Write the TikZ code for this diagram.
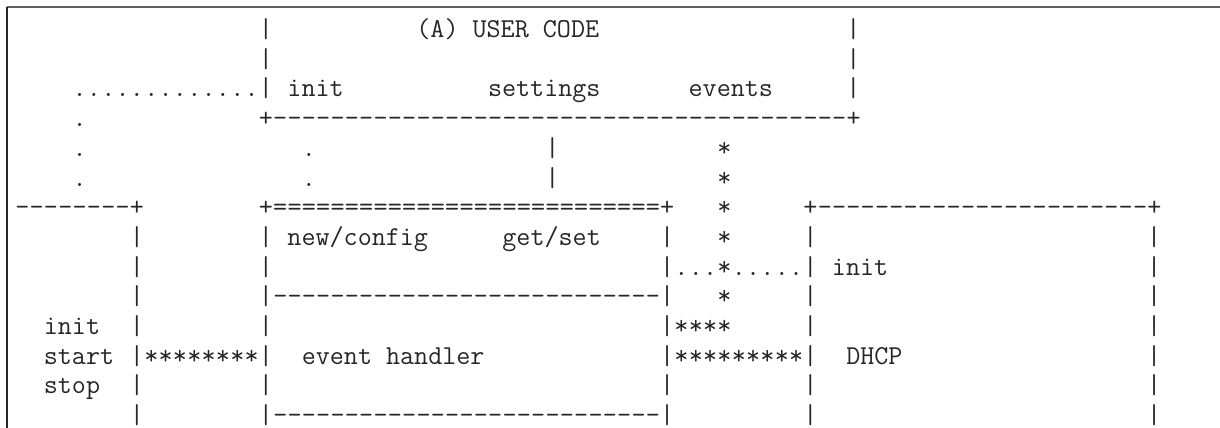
\documentclass[tikz,border=0pt]{standalone}
\usepackage{fontspec}

% one character cell, and n copies of it
\newcommand\cell[1]{\makebox[0.525em]{#1}}
\newcommand\rep[2]{\foreach\i in {1,...,#1}{\cell{#2}}}

\begin{document}
\begin{tikzpicture}[
  x=7.165pt, y=-14.85pt,
  every node/.style={font=\fontsize{13.65pt}{14.85pt}\selectfont\ttfamily, text=black!85},
  asc/.style={anchor=base west, inner sep=0pt, outer sep=0pt},
  frame/.style={line width=0.9pt}
]
\useasboundingbox (-1.061,-0.266) rectangle (84.08,14.14);

% ---------- Frame of the listing ----------
\draw[frame, gray!75!black] (-0.572,-0.03) -- (84.08,-0.03);
\draw[frame, black!85] (-0.572,-0.03) -- (-0.572,14.14);

% ---------- (A) user code box ----------
\def\ul{17} \def\ur{58}
\foreach \r in {1,2,3} {
  \node[asc] (ucl-\r) at (\ul,\r) {|};
  \node[asc] (ucr-\r) at (\ur,\r) {|};
}
\node[asc] (uc-title) at (28,1) {(A) USER CODE};
\node[asc] (uc-init) at (19,3) {init};
\node[asc] (uc-set) at (33,3) {settings};
\node[asc] (uc-ev) at (47,3) {events};
\node[asc] (uc-bot) at (\ul,4) {\cell{+}\rep{40}{-}\cell{+}};

% ---------- Left block (init/start/stop) ----------
\def\lb{8}
\node[asc] (lb-top) at (0,7) {\rep{8}{-}\cell{+}};
\foreach \r in {8,...,14}
  \node[asc] (lb-\r) at (\lb,\r) {|};
\node[asc] (lb-init) at (2,11) {init};
\node[asc] (lb-start) at (2,12) {start};
\node[asc] (lb-stop) at (2,13) {stop};

% ---------- Middle box (config / event handler) ----------
\def\ml{17} \def\mr{45}
\node[asc] (mb-top) at (\ml,7) {\cell{+}\rep{27}{=}\cell{+}};
\foreach \r in {8,...,14} {
  \node[asc] (mbl-\r) at (\ml,\r) {|};
  \node[asc] (mbr-\r) at (\mr,\r) {|};
}
\node[asc] (mb-new) at (19,8) {new/config};
\node[asc] (mb-get) at (34,8) {get/set};
\node[asc] (mb-sep1) at (18,10) {\rep{27}{-}};
\node[asc] (mb-ev) at (20,12) {event handler};
\node[asc] (mb-sep2) at (18,14) {\rep{27}{-}};

% ---------- DHCP box ----------
\def\dl{55} \def\dr{79}
\node[asc] (db-top) at (\dl,7) {\cell{+}\rep{23}{-}\cell{+}};
\foreach \r in {8,...,14} {
  \node[asc] (dbl-\r) at (\dl,\r) {|};
  \node[asc] (dbr-\r) at (\dr,\r) {|};
}
\node[asc] (db-init) at (57,9) {init};
\node[asc] (db-dhcp) at (58,12) {DHCP};

% ---------- Links ----------
% init (dotted)
\node[asc] (ln-init) at (4,3) {\rep{13}{.}};
\foreach \r in {4,5,6}
  \node[asc] (ln-init-\r) at (4,\r) {.};
% new/config (dotted)
\foreach \r in {5,6}
  \node[asc] (ln-cfg-\r) at (20,\r) {.};
% settings (solid)
\foreach \r in {5,6}
  \node[asc] (ln-set-\r) at (37,\r) {|};
% events (stars)
\foreach \r in {5,6,7,8,10}
  \node[asc] (ln-ev-\r) at (49,\r) {*};
\node[asc] (ln-ev-9) at (46,9) {\rep{3}{.}\cell{*}\rep{5}{.}};
\node[asc] (ln-ev-11) at (46,11) {\rep{4}{*}};
\node[asc] (ln-ev-12) at (46,12) {\rep{9}{*}};
% start/stop (stars)
\node[asc] (ln-start) at (9,12) {\rep{8}{*}};

\end{tikzpicture}
\end{document}
